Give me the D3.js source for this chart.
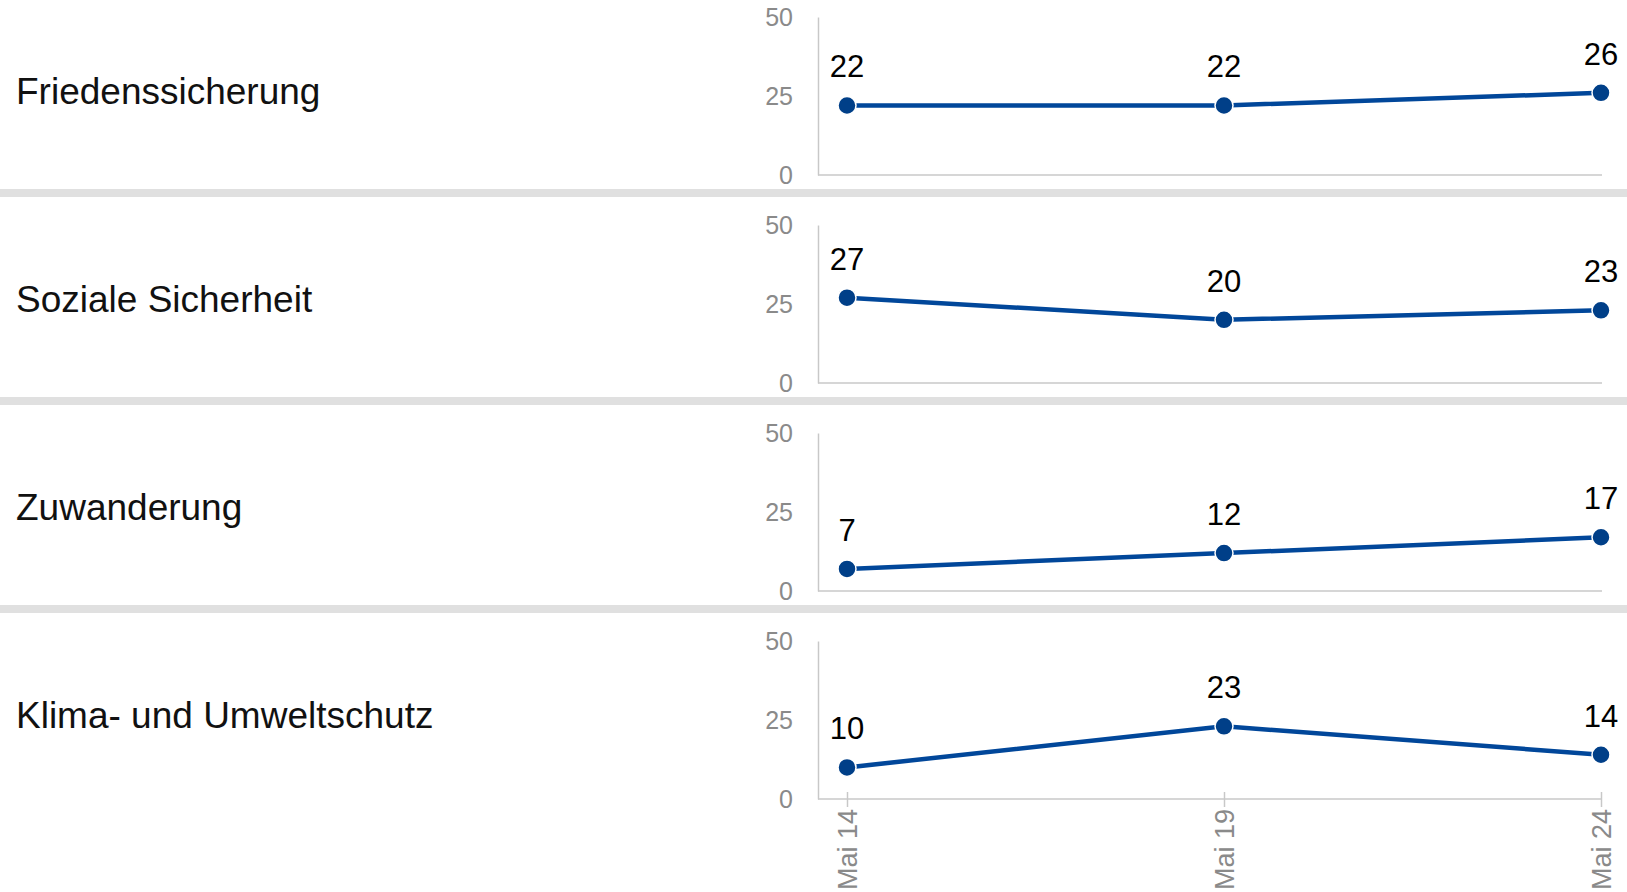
<!DOCTYPE html>
<html>
<head>
<meta charset="utf-8">
<script src="https://cdn.jsdelivr.net/npm/d3@7"></script>
<style>
  body { margin: 0; background: #fff; }
  svg { display: block; font-family: "Liberation Sans", Arial, sans-serif; }
</style>
</head>
<body>
<div id="chart"></div>
<script>
// data
var categories = ["Friedenssicherung", "Soziale Sicherheit", "Zuwanderung", "Klima- und Umweltschutz"];
var periods = ["Mai 14", "Mai 19", "Mai 24"];
var seriesValues = [
    [22, 22, 26],
    [27, 20, 23],
    [7, 12, 17],
    [10, 23, 14]
];
var yTicks = [0, 25, 50];

var width = 1627, height = 892;
var panelStep = 208;
var panelTop = 17, panelBottom = 175;
var axisX = 818;

var svg = d3.select("#chart").append("svg")
    .attr("width", width)
    .attr("height", height);

var x = d3.scalePoint()
    .domain(periods)
    .range([847, 1601]);

categories.forEach(function(cat, i) {
    var g = svg.append("g")
        .attr("transform", "translate(0," + (i * panelStep) + ")");

    var y = d3.scaleLinear()
        .domain([0, 50])
        .range([panelBottom, panelTop]);

    // separator band above all panels except the first
    if (i > 0) {
        g.append("rect")
            .attr("x", 0)
            .attr("y", 189 - panelStep)
            .attr("width", width)
            .attr("height", 8)
            .style("fill", "#e0e0e0");
    }

    // category label
    g.append("text")
        .attr("x", 16)
        .attr("y", panelTop + 87)
        .style("font-size", "37px")
        .style("fill", "#111")
        .text(cat);

    // y axis
    var yAxis = g.append("g")
        .attr("transform", "translate(" + axisX + ",0)")
        .call(d3.axisLeft(y).tickValues(yTicks).tickSize(0).tickPadding(25));
    yAxis.select(".domain")
        .attr("stroke", "#c8c8c8")
        .attr("stroke-width", 1.5);
    yAxis.selectAll("text")
        .style("font-size", "25px")
        .style("font-family", "'Liberation Sans', Arial, sans-serif")
        .style("fill", "#8a8a8a");

    // baseline
    g.append("line")
        .attr("x1", axisX)
        .attr("x2", x.range()[1] + 1)
        .attr("y1", y(0))
        .attr("y2", y(0))
        .style("stroke", "#c8c8c8")
        .style("stroke-width", 1.5);

    // x axis only on the last panel
    if (i === categories.length - 1) {
        var xAxis = g.append("g")
            .attr("transform", "translate(0," + y(0) + ")")
            .call(d3.axisBottom(x).tickSize(8));
        xAxis.select(".domain").remove();
        xAxis.selectAll(".tick line")
            .attr("y1", -7)
            .attr("y2", 8)
            .attr("stroke", "#c8c8c8")
            .attr("stroke-width", 1.5);
        xAxis.selectAll(".tick text")
            .attr("transform", "rotate(-90)")
            .attr("x", -10)
            .attr("y", 0)
            .attr("dy", "0.35em")
            .attr("text-anchor", "end")
            .style("font-size", "27px")
            .style("font-family", "'Liberation Sans', Arial, sans-serif")
            .style("fill", "#8a8a8a");
    }

    var vals = seriesValues[i];
    var line = d3.line()
        .x(function(d, j) { return x(periods[j]); })
        .y(function(d) { return y(d); });

    g.append("path")
        .datum(vals)
        .attr("d", line)
        .style("fill", "none")
        .style("stroke", "#01479a")
        .style("stroke-width", 4.5);

    g.selectAll(".dot")
        .data(vals)
        .enter().append("circle")
        .attr("cx", function(d, j) { return x(periods[j]); })
        .attr("cy", function(d) { return y(d); })
        .attr("r", 9)
        .style("fill", "#003f88")
        .style("stroke", "#fff")
        .style("stroke-width", 1.5);

    g.selectAll(".val")
        .data(vals)
        .enter().append("text")
        .attr("x", function(d, j) { return x(periods[j]); })
        .attr("y", function(d) { return y(d) - 28; })
        .attr("text-anchor", "middle")
        .style("font-size", "31px")
        .style("fill", "#000")
        .text(function(d) { return d; });
});
</script>
</body>
</html>
